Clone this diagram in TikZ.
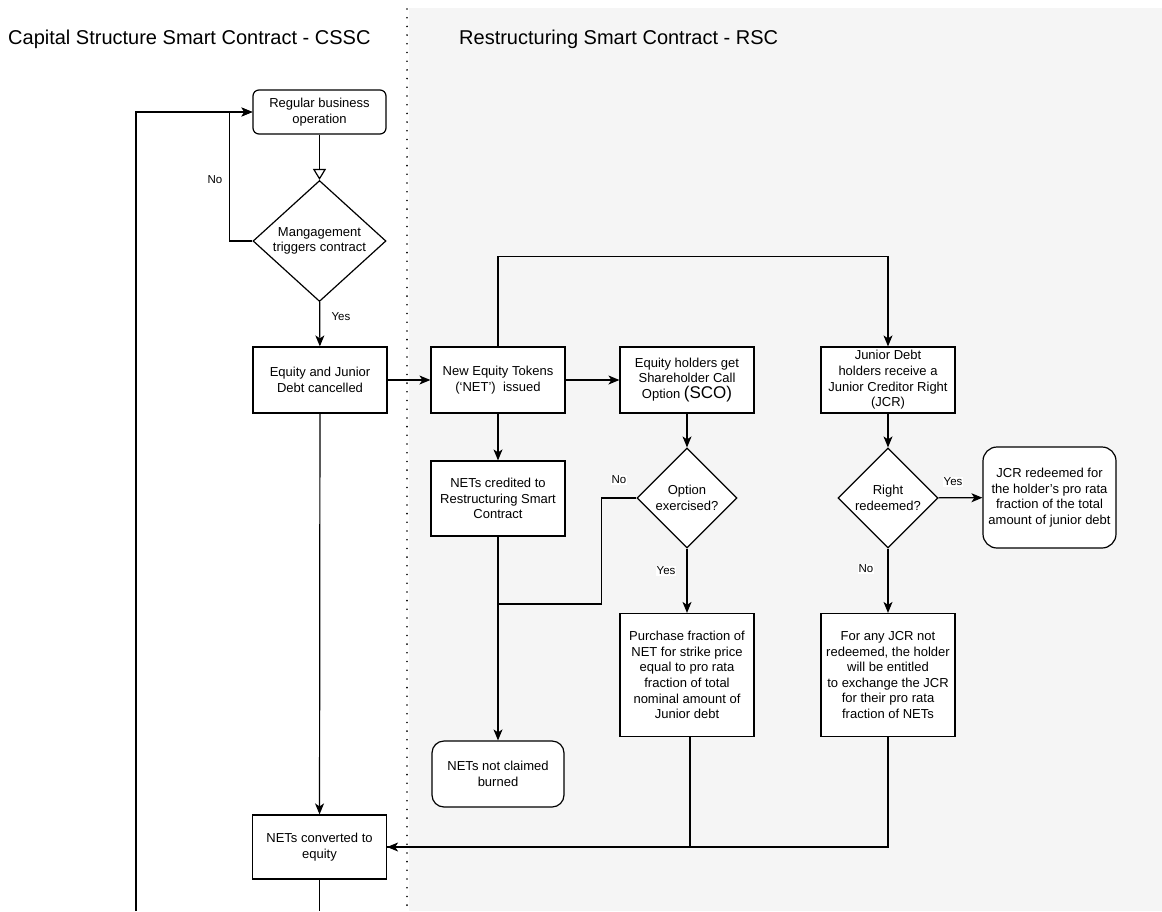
\documentclass[tikz,border=0pt]{standalone}
\usepackage{fontspec}
\setmainfont{Liberation Sans}
\usepackage{xcolor}
\usetikzlibrary{arrows.meta}
\usetikzlibrary{shapes.geometric}
\definecolor{panelgray}{HTML}{F5F5F5}
\newcommand{\boxfont}{\fontsize{13}{15.6}\selectfont}

\begin{document}
\begin{tikzpicture}[x=1pt, y=-1pt,
  box/.style={draw, fill=white, line width=1.2pt, align=center, minimum width=134pt, minimum height=66pt, inner sep=2pt, font=\boxfont},
  roundbox/.style={box, rounded corners=8pt},
  decision/.style={draw, fill=white, line width=1.2pt, diamond, minimum width=100pt, minimum height=100pt, inner sep=0pt},
  flow/.style={line width=1.2pt, -{Stealth[length=11pt,width=9pt,inset=3pt]}},
  link/.style={line width=1.2pt},
  answer/.style={fill=white, inner sep=1pt, font=\fontsize{11.5}{13}\selectfont},
  heading/.style={anchor=west, inner sep=0pt, font=\fontsize{20}{24}\selectfont}]

\useasboundingbox (0,0) rectangle (1162,911);
\fill[white] (0,0) rectangle (1162,911);
\fill[panelgray] (409,8) rectangle (1162,911);
\draw[line width=1.8pt, line cap=round, dash pattern=on 0pt off 8.7pt] (407,9) -- (407,911);

\node[heading] (cssc) at (8,39) {Capital Structure Smart Contract - CSSC};
\node[heading] (rsc) at (459,39) {Restructuring Smart Contract - RSC};

\node[roundbox, minimum width=133pt, minimum height=44pt, rounded corners=6pt] (regular) at (319.5,112) {Regular business\\operation};
\node[decision, minimum width=133pt, minimum height=121pt, label={[align=center, font=\boxfont]center:Mangagement\\triggers contract}] (trigger) at (319.5,241) {};
\node[box] (cancel) at (320,380) {Equity and Junior\\Debt cancelled};
\node[box] (issue) at (498,380) {New Equity Tokens\\(‘NET’)\ \ issued};
\node[box] (callopt) at (687,380) {Equity holders get\\Shareholder Call\\Option {\fontsize{17}{17}\selectfont(SCO)}};
\node[box] (jcr) at (888,380) {Junior Debt\\holders receive a\\Junior Creditor Right\\(JCR)};
\node[box, minimum height=75pt] (credited) at (498,498.5) {NETs credited to\\Restructuring Smart\\Contract};
\node[decision, label={[align=center, font=\boxfont]center:Option\\exercised?}] (exercise) at (687,498) {};
\node[decision, label={[align=center, font=\boxfont]center:Right\\redeemed?}] (redeem) at (888,498) {};
\node[roundbox, minimum width=133pt, minimum height=101pt, rounded corners=14pt] (jcrpaid) at (1049.5,497.5) {JCR redeemed for\\the holder’s pro rata\\fraction of the total\\amount of junior debt};
\node[box, minimum height=123pt] (purchase) at (687,675) {Purchase fraction of\\NET for strike price\\equal to pro rata\\fraction of total\\nominal amount of\\Junior debt};
\node[box, minimum height=123pt] (exchange) at (888,675) {For any JCR not\\redeemed, the holder\\will be entitled\\to exchange the JCR\\for their pro rata\\fraction of NETs};
\node[roundbox, minimum width=132pt, rounded corners=12pt] (burned) at (498,774) {NETs not claimed\\burned};
\node[box, minimum height=64pt] (converted) at (319.5,847) {NETs converted to\\equity};

\coordinate (loopfoot) at (136,911);
\coordinate (convfoot) at (319.5,911);

\draw[flow] (loopfoot) |- (regular.west);
\draw[flow] (trigger.west) -- ++(-23,0) |- (regular.west);
\draw[link, -{Triangle[open, length=11pt, width=13pt]}] (regular) -- (trigger);
\draw[flow] (trigger) -- (cancel);
\draw[flow] (cancel) -- (issue);
\draw[flow] (issue) -- (callopt);
\draw[flow] (issue.north) -- ++(0,-90) -| (jcr.north);
\draw[flow] (issue) -- (credited);
\draw[flow] (callopt) -- (exercise);
\draw[flow] (jcr) -- (redeem);
\draw[flow] (credited) -- (burned);
\draw[link] (exercise.west) -- ++(-35,0) -- ++(0,106) -| (credited.south);
\draw[flow] (exercise) -- (purchase);
\draw[flow] (redeem) -- (jcrpaid);
\draw[flow] (redeem) -- (exchange);
\draw[flow] (exchange) |- (converted);
\draw[link] ([xshift=3pt]purchase.south) |- (converted.east);
\draw[flow] (cancel) -- (converted);
\draw[link] (converted) -- (convfoot);

\node[answer] (nolabel1) at (215,180) {No};
\node[answer] (yeslabel1) at (341,317) {Yes};
\node[answer] (nolabel2) at (619,480) {No};
\node[answer] (yeslabel2) at (666,571) {Yes};
\node[answer] (yeslabel3) at (953,482) {Yes};
\node[answer] (nolabel3) at (866,569) {No};
\end{tikzpicture}
\end{document}
